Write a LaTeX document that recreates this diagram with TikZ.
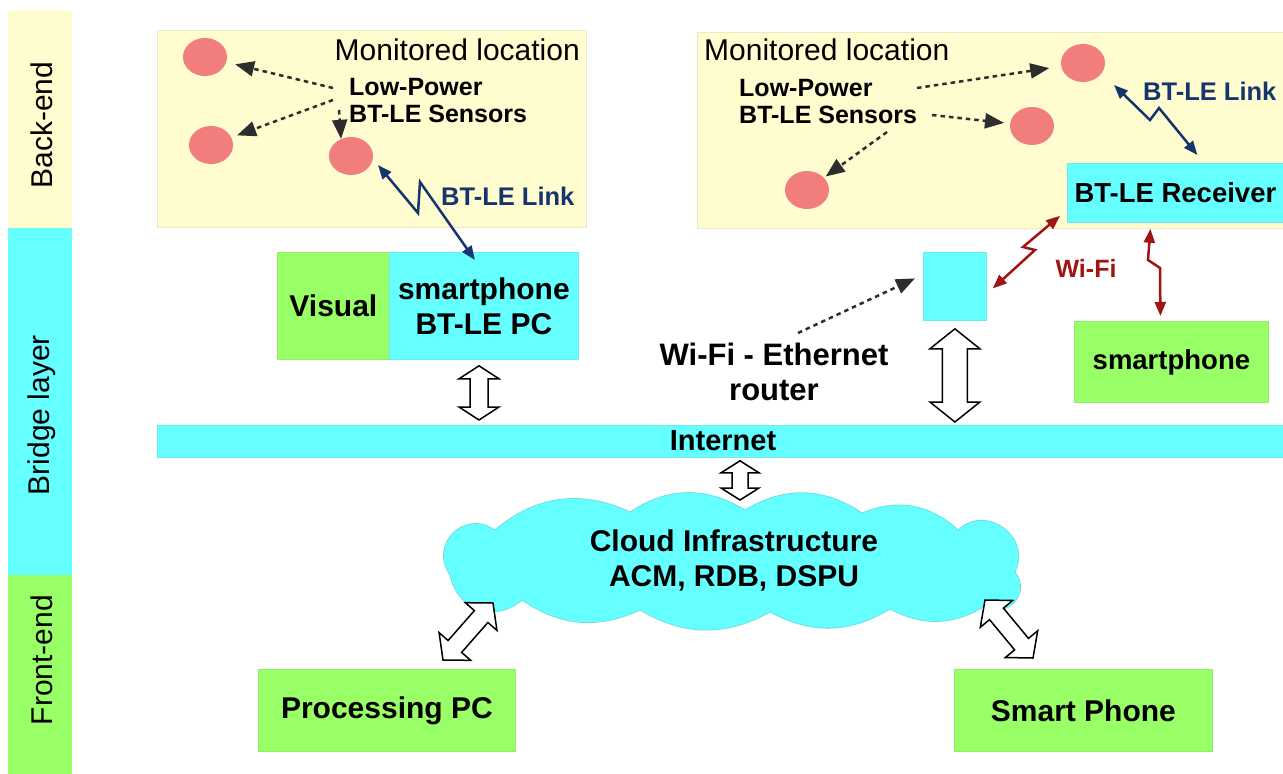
\documentclass[tikz,border=0pt]{standalone}
\usepackage{fontspec}
\setmainfont{Liberation Sans}
\usetikzlibrary{arrows.meta,calc,shapes.geometric}
\definecolor{byel}{RGB}{255,252,208}
\definecolor{bcyan}{RGB}{102,255,255}
\definecolor{bgreen}{RGB}{153,255,102}
\definecolor{sred}{RGB}{242,125,125}
\definecolor{navy}{RGB}{22,52,110}
\definecolor{dred}{RGB}{160,20,20}
\definecolor{dgray}{RGB}{45,45,45}
\newcommand\hollowarr[5]{%
  \coordinate (ha) at ($(#1)!#5!(#2)$);
  \coordinate (hb) at ($(#2)!#5!(#1)$);
  \draw[harrow] (#1) -- ($(ha)!#3!90:(#2)$) -- ($(ha)!#4!90:(#2)$)
    -- ($(hb)!#4!-90:(#1)$) -- ($(hb)!#3!-90:(#1)$) -- (#2)
    -- ($(hb)!#3!90:(#1)$) -- ($(hb)!#4!90:(#1)$)
    -- ($(ha)!#4!-90:(#2)$) -- ($(ha)!#3!-90:(#2)$) -- cycle;}
\begin{document}
\begin{tikzpicture}[x=1pt,y=-1pt,
  box/.style={rectangle, inner sep=0pt, anchor=north west, line width=0.8pt},
  ybox/.style={box, fill=byel, draw=byel!85!gray},
  cbox/.style={box, fill=bcyan, draw=bcyan!85!gray},
  gbox/.style={box, fill=bgreen, draw=bgreen!85!gray},
  sensor/.style={ellipse, fill=sred, minimum width=44pt, minimum height=38pt, inner sep=0pt},
  side/.style={rotate=90, font=\fontsize{30}{34}\selectfont},
  regtxt/.style={font=\fontsize{30}{34}\selectfont, inner sep=0pt},
  bigb/.style={font=\fontsize{30}{35}\selectfont\bfseries, align=center},
  midb/.style={font=\fontsize{27.5}{32}\selectfont\bfseries, align=center},
  smallb/.style={font=\fontsize{25}{27}\selectfont\bfseries, align=left, inner sep=0pt},
  dotarrow/.style={dgray, line width=2.5pt, dash pattern=on 4.5pt off 4pt, -{Triangle[length=19pt,width=15pt]}},
  btlink/.style={navy, line width=2.5pt, line join=miter, {Triangle[length=14pt,width=11pt]}-{Triangle[length=14pt,width=11pt]}},
  wflink/.style={dred, line width=2.5pt, line join=miter, {Triangle[length=14pt,width=11pt]}-{Triangle[length=14pt,width=11pt]}},
  harrow/.style={draw=black, fill=white, line width=1.5pt, line join=miter},
  cloudline/.style={fill=bcyan, draw=bcyan!75!gray, line width=0.8pt}
]
\useasboundingbox (0,0) rectangle (1283,774);
\fill[white] (0,0) rectangle (1283,774);

% side layer bars
\node[box, fill=byel, minimum width=64pt, minimum height=218pt] (be) at (8,10) {};
\node[box, fill=bcyan, minimum width=64pt, minimum height=347pt] (bl) at (8,228) {};
\node[box, fill=bgreen, minimum width=64pt, minimum height=199pt] (fe) at (8,575) {};
\node[side] (tbe) at (42,125) {Back-end};
\node[side] (tbl) at (42,415) {Bridge layer};
\node[side] (tfe) at (42,660) {Front-end};

% monitored locations
\node[ybox, minimum width=429pt, minimum height=197pt] (mlL) at (157,30) {};
\node[ybox, minimum width=586pt, minimum height=196pt] (mlR) at (697,32) {};
\node[regtxt, anchor=east] (tmlL) at (580,50) {Monitored location};
\node[regtxt, anchor=west] (tmlR) at (704,50) {Monitored location};
\node[smallb, anchor=west] (lpL) at (349,101) {Low-Power\\BT-LE Sensors};
\node[smallb, anchor=west] (lpR) at (739,102) {Low-Power\\BT-LE Sensors};

% sensors
\node[sensor] (s1) at (205,57) {};
\node[sensor] (s2) at (211,145) {};
\node[sensor] (s3) at (351,156) {};
\node[sensor] (s4) at (1083,63) {};
\node[sensor] (s5) at (1032,126) {};
\node[sensor] (s6) at (807,190) {};

% sensor arrows
\coordinate (d1) at (333,88);
\coordinate (d2) at (333,100);
\coordinate (d3) at (339,110);
\coordinate (d4) at (917,88);
\coordinate (d5) at (932,115);
\coordinate (d6) at (887,132);
\draw[dotarrow, shorten >=9pt] (d1) -- (s1);
\draw[dotarrow, shorten >=6pt] (d2) -- (s2);
\draw[dotarrow] (d3) -- (s3.120);
\draw[dotarrow, shorten >=12pt] (d4) -- (s4);
\draw[dotarrow, shorten >=6pt] (d5) -- (s5);
\draw[dotarrow, shorten >=2pt] (d6) -- (s6);

% bridge layer left
\node[gbox, minimum width=112pt, minimum height=107pt, bigb] (vis) at (277,252) {Visual};
\node[cbox, minimum width=189pt, minimum height=107pt, bigb] (pc) at (389,252) {smartphone\\BT-LE PC};
\draw[btlink] ([shift={(27,9)}]s3.center) -- (418,213) -- (420,182) -- ([xshift=-9pt,yshift=-8pt]pc.north);
\node[font=\fontsize{25.5}{30}\selectfont\bfseries, text=navy, anchor=west, inner sep=0pt] (lkL) at (441,196) {BT-LE Link};

% right side
\node[cbox, minimum width=216pt, minimum height=59pt, midb] (rcv) at (1067,163) {BT-LE Receiver};
\draw[btlink] ([shift={(31,22)}]s4.center) -- (1150,120) -- (1159,108) -- ([xshift=22pt,yshift=8pt]rcv.north);
\node[font=\fontsize{25.5}{30}\selectfont\bfseries, text=navy, anchor=west, inner sep=0pt] (lkR) at (1143,91) {BT-LE Link};

\node[cbox, minimum width=63pt, minimum height=68pt] (rtr) at (923,252) {};
\node[gbox, minimum width=194pt, minimum height=81pt, midb] (sp2) at (1074,321) {smartphone};
\draw[wflink] ([shift={(-7,-7)}]rcv.south west) -- (1023,247) -- (1035,250) -- ([shift={(6,2)}]rtr.east);
\draw[wflink] ([shift={(-25,6)}]rcv.south) -- (1148,260) -- (1160,268) -- ([shift={(-11,-5)}]sp2.north);
\node[font=\fontsize{25}{30}\selectfont\bfseries, text=dred, inner sep=0pt] (wf) at (1086,268) {Wi-Fi};

\node[font=\fontsize{31}{35}\selectfont\bfseries, align=center, inner sep=0pt] (rl) at (774,372) {Wi-Fi - Ethernet\\router};
\coordinate (rla) at (798,333);
\draw[dotarrow] (rla) -- ([shift={(-8,-8)}]rtr.west);

% internet bar
\node[cbox, minimum width=1126pt, minimum height=32pt] (inet) at (157,425) {};
\node[font=\fontsize{29}{33}\selectfont\bfseries, inner sep=0pt] (tinet) at (723,441) {Internet};

% cloud
\draw[cloudline] (450,575) to[bend left=80, looseness=1.5] (495,530)
  to[bend left=33] (630,512) to[bend left=33] (745,510) to[bend left=33] (862,513)
  to[bend left=33] (958,530) to[bend left=80, looseness=1.4] (1015,572)
  to[bend left=80, looseness=1.5] (985,606) to[bend left=30] (890,609)
  to[bend left=30] (770,612) to[bend left=30] (640,610) to[bend left=30] (522,600)
  to[bend left=60, looseness=1.2] cycle;
\node[bigb, minimum width=585pt, minimum height=125pt, inner sep=0pt] (cld) at (734,560)
      {Cloud Infrastructure\\ACM, RDB, DSPU};

% front-end boxes
\node[gbox, minimum width=257pt, minimum height=82pt, bigb] (ppc) at (258,669) {Processing PC};
\node[gbox, minimum width=258pt, minimum height=82pt, bigb] (sph) at (954,669) {Smart Phone};

% hollow arrows
\coordinate (h1a) at ([yshift=-6pt]pc.south -| 479,0);
\coordinate (h1b) at ([yshift=5pt]inet.north -| 479,0);
\hollowarr{h1a}{h1b}{20pt}{9pt}{13pt}
\coordinate (h2a) at ([yshift=-8pt]rtr.south);
\coordinate (h2b) at ([yshift=3pt]inet.north -| rtr.south);
\hollowarr{h2a}{h2b}{25pt}{12.5pt}{20pt}
\coordinate (h3a) at ([yshift=-3pt]inet.south -| 740,0);
\coordinate (h3b) at (740,500);
\hollowarr{h3a}{h3b}{19pt}{8pt}{12pt}
\coordinate (h4a) at (493,603);
\coordinate (h4b) at (443,660);
\hollowarr{h4a}{h4b}{21pt}{9pt}{18pt}
\coordinate (h5a) at (985,600);
\coordinate (h5b) at (1033,658);
\hollowarr{h5a}{h5b}{21pt}{9pt}{18pt}
\end{tikzpicture}
\end{document}
